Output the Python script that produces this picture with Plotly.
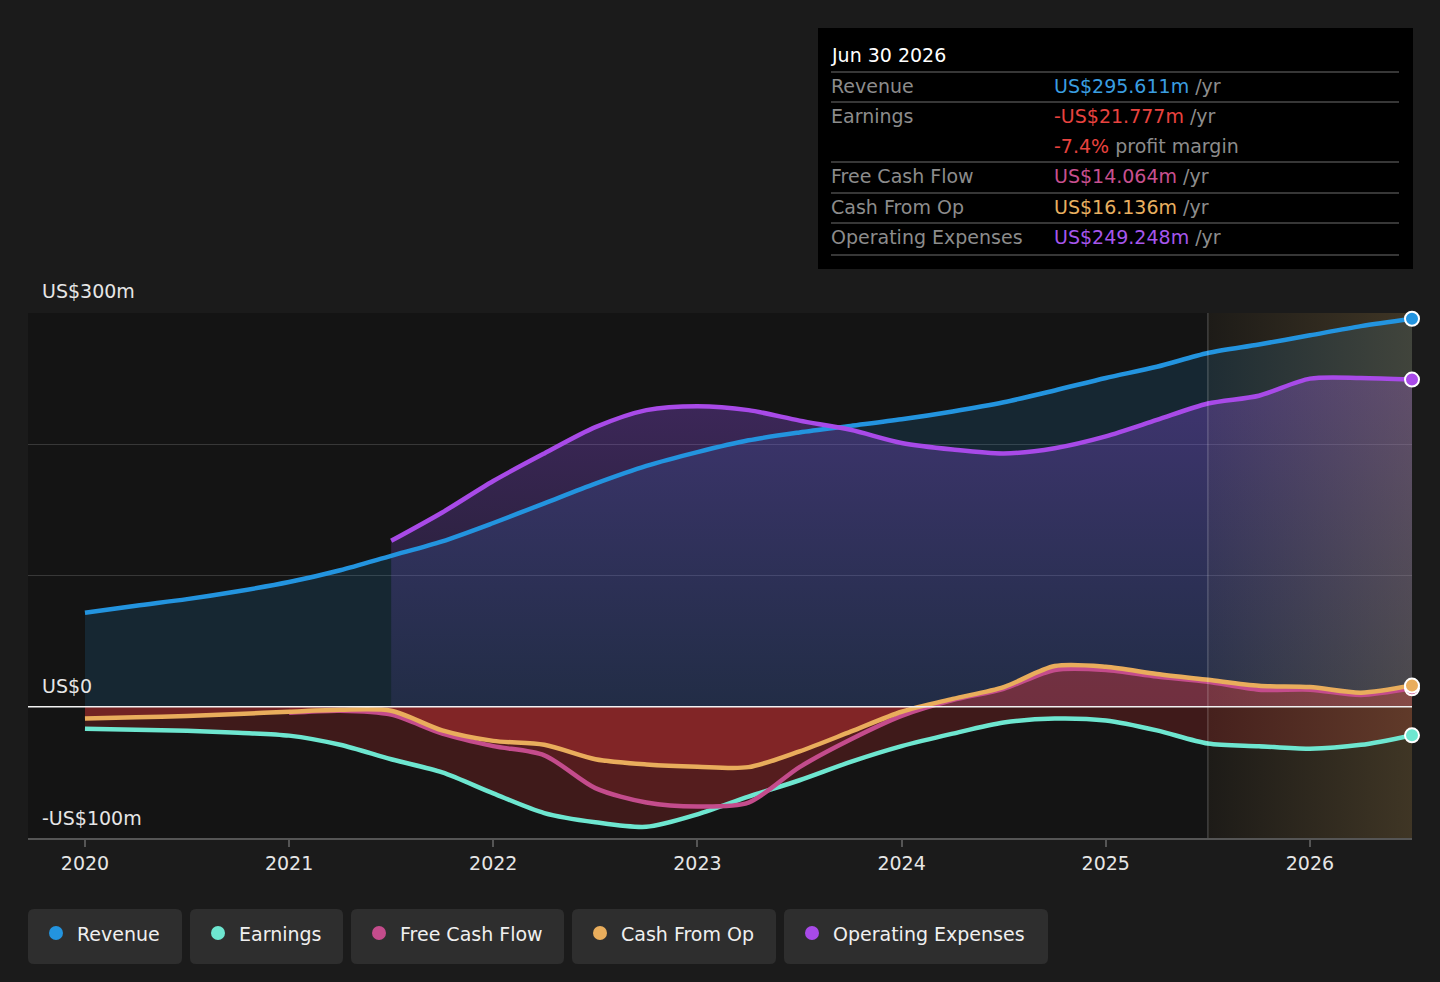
import plotly.graph_objects as go

# ---------------- data ----------------
dates = [2020.0, 2020.25, 2020.5, 2020.75, 2021.0, 2021.25, 2021.5, 2021.75,
         2022.0, 2022.25, 2022.5, 2022.75, 2023.0, 2023.25, 2023.5, 2023.75,
         2024.0, 2024.25, 2024.5, 2024.75, 2025.0, 2025.25, 2025.5, 2025.75,
         2026.0, 2026.25, 2026.5]

revenue = [71.6, 77, 82, 88, 95, 104, 115, 126, 140, 155, 170, 183.5, 194, 203,
           209, 214, 219, 225, 232, 241, 250.5, 259, 269.5, 276, 283, 290, 295.611]

earnings = [-16.8, -17.5, -18.3, -19.8, -22, -29, -40, -50, -66, -81, -88, -91.5,
            -82, -68.5, -56, -42, -30, -20.5, -12, -9, -10.5, -18, -28, -30, -32,
            -29, -21.777]

free_cash_flow = [None, None, None, None, -4.6, -3, -6, -20.5, -30, -37, -62, -73,
                  -76, -73, -46, -25, -7, 5, 13.7, 28, 28, 23, 19, 13, 13, 9, 14.064]

cash_from_op = [-9, -8, -7, -5.5, -3.8, -2.3, -3, -18, -26, -29, -40, -44, -45.7,
                -46, -34, -19, -3.8, 6, 15, 31, 30.5, 25, 20.5, 16, 15, 10.7, 16.136]

operating_expenses = [None, None, None, None, None, None, 126.4, 148, 172, 193, 213,
                      226, 229, 226, 218, 211, 201, 196, 193, 197, 206, 218.5, 231,
                      237, 250, 250.5, 249.248]

year_ticks = [2020, 2021, 2022, 2023, 2024, 2025, 2026]
year_labels = ["2020", "2021", "2022", "2023", "2024", "2025", "2026"]
forecast_start = 2025.5

series_names = ["Revenue", "Earnings", "Free Cash Flow", "Cash From Op", "Operating Expenses"]
series_colors = ["#2394df", "#6ee6d0", "#c44c8c", "#e9ad5c", "#a84ae8"]

tooltip_date = "Jun 30 2026"
tooltip_rows = [
    ("Revenue", "US$295.611m", "#3a9ee0", " /yr"),
    ("Earnings", "-US$21.777m", "#e8433f", " /yr"),
    ("", "-7.4%", "#e8433f", " profit margin"),
    ("Free Cash Flow", "US$14.064m", "#c8508f", " /yr"),
    ("Cash From Op", "US$16.136m", "#e8b060", " /yr"),
    ("Operating Expenses", "US$249.248m", "#a656ec", " /yr"),
]

# ---------------- layout geometry ----------------
W, H = 1440, 982
L, R, T, B = 28, 1412, 313, 838
FONT = "DejaVu Sans"


def px(xp):
    return (xp - L) / (R - L)


def py(yp):
    return (B - yp) / (B - T)


fig = go.Figure()

# ---- fills (drawn first) ----
fig.add_trace(go.Scatter(x=dates, y=revenue, mode="lines", line=dict(width=0, shape="spline", smoothing=0.8),
                         fill="tozeroy", fillcolor="rgba(35,148,223,0.15)", hoverinfo="skip", showlegend=False))
fig.add_trace(go.Scatter(x=dates, y=operating_expenses, mode="lines",
                         line=dict(width=0, shape="spline", smoothing=0.8),
                         fill="tozeroy",
                         fillgradient=dict(type="vertical", start=0, stop=250,
                                           colorscale=[[0, "rgba(130,90,230,0.11)"], [1, "rgba(150,80,240,0.33)"]]),
                         hoverinfo="skip", showlegend=False))
fig.add_trace(go.Scatter(x=dates, y=earnings, mode="lines", line=dict(width=0, shape="spline", smoothing=0.8),
                         fill="tozeroy", fillcolor="rgba(220,50,50,0.22)", hoverinfo="skip", showlegend=False))
fig.add_trace(go.Scatter(x=dates, y=free_cash_flow, mode="lines", line=dict(width=0, shape="spline", smoothing=0.8),
                         fill="tozeroy", fillcolor="rgba(220,50,60,0.14)", hoverinfo="skip", showlegend=False))
fig.add_trace(go.Scatter(x=dates, y=cash_from_op, mode="lines", line=dict(width=0, shape="spline", smoothing=0.8),
                         fill="tozeroy", fillcolor="rgba(225,55,55,0.32)", hoverinfo="skip", showlegend=False))

# ---- forecast overlay ----
fig.add_trace(go.Scatter(x=[forecast_start, dates[-1], dates[-1], forecast_start, forecast_start],
                         y=[-100, -100, 300, 300, -100], mode="lines", line=dict(width=0),
                         fill="toself",
                         fillgradient=dict(type="horizontal",
                                           colorscale=[[0, "rgba(200,160,90,0.05)"], [1, "rgba(200,160,90,0.24)"]]),
                         hoverinfo="skip", showlegend=False))

# ---- lines ----
line_series = [revenue, earnings, free_cash_flow, cash_from_op, operating_expenses]
draw_order = [1, 2, 3, 0, 4]
for i in draw_order:
    fig.add_trace(go.Scatter(x=dates, y=line_series[i], mode="lines", name=series_names[i],
                             line=dict(color=series_colors[i], width=4.5, shape="spline", smoothing=0.8),
                             hoverinfo="skip", showlegend=False))

# ---- end markers ----
for i in [1, 2, 3, 4, 0]:
    fig.add_trace(go.Scatter(x=[dates[-1]], y=[line_series[i][-1]], mode="markers",
                             marker=dict(size=14, color=series_colors[i], line=dict(color="white", width=2)),
                             hoverinfo="skip", showlegend=False, cliponaxis=False))

shapes = []
annotations = []

# zero line
shapes.append(dict(type="line", xref="paper", yref="y", x0=0, x1=1, y0=0, y1=0,
                   line=dict(color="#f2f2f2", width=1.5), layer="above"))
# forecast divider
shapes.append(dict(type="line", xref="x", yref="y", x0=forecast_start, x1=forecast_start, y0=-100, y1=300,
                   line=dict(color="rgba(255,255,255,0.18)", width=1.5), layer="above"))

# y labels
for txt, yp in [("US$300m", 291), ("US$0", 686), ("-US$100m", 818)]:
    annotations.append(dict(text=txt, xref="paper", yref="paper", x=px(40), y=py(yp), xanchor="left",
                            yanchor="middle", showarrow=False, font=dict(family=FONT, size=19, color="#e6e6e6")))

# ---- tooltip box ----
shapes.append(dict(type="rect", xref="paper", yref="paper", x0=px(818), x1=px(1413), y0=py(28), y1=py(269),
                   fillcolor="#000000", line=dict(width=0), layer="above"))
annotations.append(dict(text=tooltip_date, xref="paper", yref="paper", x=px(829), y=py(55), xanchor="left",
                        yanchor="middle", showarrow=False, font=dict(family=FONT, size=19, color="#ffffff")))
for ysep in [72, 102, 162, 193, 223, 255]:
    shapes.append(dict(type="line", xref="paper", yref="paper", x0=px(831), x1=px(1399), y0=py(ysep), y1=py(ysep),
                       line=dict(color="#4a4a4a", width=1.5), layer="above"))
row_y = [86, 116, 146, 176, 207, 237]
for (lab, val, col, suffix), yy in zip(tooltip_rows, row_y):
    if lab:
        annotations.append(dict(text=lab, xref="paper", yref="paper", x=px(829), y=py(yy), xanchor="left",
                                yanchor="middle", showarrow=False, font=dict(family=FONT, size=19, color="#8c8c8c")))
    annotations.append(dict(text=f"<span style='color:{col}'>{val}</span>{suffix}", xref="paper", yref="paper",
                            x=px(1052), y=py(yy), xanchor="left", yanchor="middle", showarrow=False,
                            font=dict(family=FONT, size=19, color="#8c8c8c")))

# ---- custom legend ----
def rounded_rect(x0, y0, x1, y1, r):
    pts = [
        f"M {px(x0 + r)},{py(y0)}", f"L {px(x1 - r)},{py(y0)}", f"Q {px(x1)},{py(y0)} {px(x1)},{py(y0 + r)}",
        f"L {px(x1)},{py(y1 - r)}", f"Q {px(x1)},{py(y1)} {px(x1 - r)},{py(y1)}",
        f"L {px(x0 + r)},{py(y1)}", f"Q {px(x0)},{py(y1)} {px(x0)},{py(y1 - r)}",
        f"L {px(x0)},{py(y0 + r)}", f"Q {px(x0)},{py(y0)} {px(x0 + r)},{py(y0)}", "Z",
    ]
    return " ".join(pts)


legend_boxes = [(28, 182), (190, 343), (351, 564), (572, 776), (784, 1048)]
for (bx0, bx1), name, col in zip(legend_boxes, series_names, series_colors):
    shapes.append(dict(type="path", xref="paper", yref="paper", path=rounded_rect(bx0, 909, bx1, 964, 6),
                       fillcolor="#2e2e2e", line=dict(width=0)))
    cx = bx0 + 28
    shapes.append(dict(type="circle", xref="paper", yref="paper", x0=px(cx - 7), x1=px(cx + 7),
                       y0=py(933 - 7), y1=py(933 + 7), fillcolor=col, line=dict(width=0)))
    annotations.append(dict(text=name, xref="paper", yref="paper", x=px(cx + 19), y=py(934), xanchor="left",
                            yanchor="middle", showarrow=False, font=dict(family=FONT, size=19, color="#f0f0f0")))

fig.update_layout(
    width=W, height=H,
    margin=dict(l=L, r=W - R, t=T, b=H - B),
    paper_bgcolor="#1b1b1b", plot_bgcolor="#141414",
    showlegend=False,
    shapes=shapes, annotations=annotations,
    font=dict(family=FONT, color="#e6e6e6"),
    xaxis=dict(range=[2019.721, 2026.5], tickvals=year_ticks, ticktext=year_labels, showgrid=False,
               zeroline=False, showline=True, linecolor="#555555", linewidth=2, ticks="outside",
               ticklen=7, tickwidth=2, tickcolor="#555555", tickfont=dict(family=FONT, size=19, color="#e6e6e6"),
               fixedrange=True),
    yaxis=dict(range=[-100, 300], tickvals=[100, 200, 300], showticklabels=False, showgrid=True,
               gridcolor="#383838", gridwidth=1, zeroline=False, showline=False, fixedrange=True),
)

fig.write_html("out.html", config={"displayModeBar": False},
               post_script="document.body.style.margin='0';document.body.style.background='#1b1b1b';")
